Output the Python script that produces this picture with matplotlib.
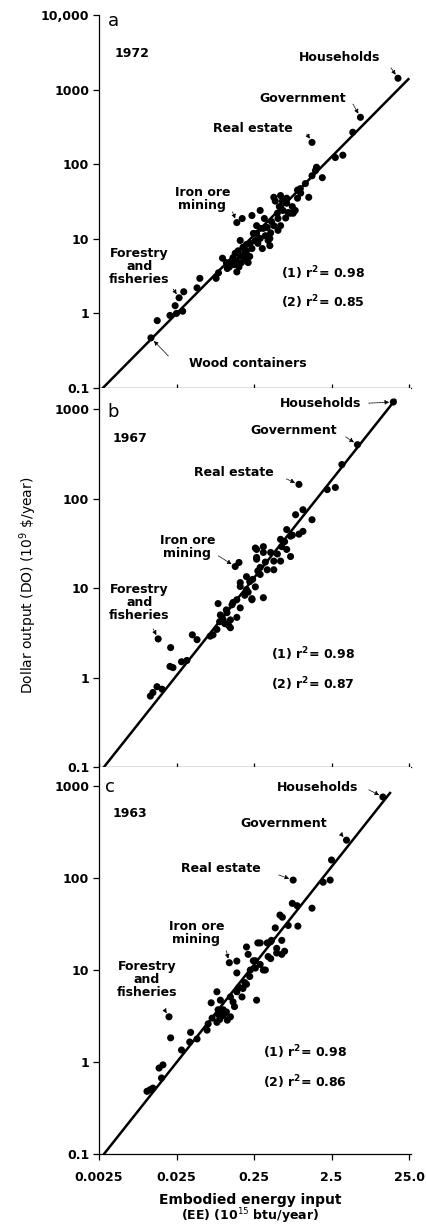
import matplotlib
matplotlib.use("Agg")
import matplotlib.pyplot as plt

# 1972 panel: embodied energy input (10^15 btu/yr) vs dollar output (10^9 $/yr)
ee_1972 = [0.0117, 0.0141, 0.0206, 0.024, 0.027, 0.031, 0.025, 0.030, 0.046, 0.050,
           0.081, 0.087, 0.098, 0.113, 0.124, 0.134, 0.143, 0.150, 0.150, 0.176,
           0.166, 0.18, 0.193, 0.20, 0.21, 0.224, 0.235, 0.245, 0.27, 0.28,
           0.30, 0.30, 0.32, 0.37, 0.40, 0.42, 0.40, 0.47, 0.50, 0.55,
           0.58, 0.66, 0.69, 0.73, 0.85, 0.91, 1.0, 1.27, 1.40, 1.55,
           1.6, 1.9, 2.8, 3.5, 4.7, 5.9, 1.4, 18, 0.156, 0.166,
           0.148, 0.172, 0.19, 0.2, 0.22, 0.235, 0.138, 0.16, 0.12, 0.11,
           0.26, 0.33, 0.35, 0.38, 0.41, 0.45, 0.51, 0.53, 0.59, 0.64,
           0.66, 0.78, 0.80, 0.34, 0.51, 0.30, 0.27, 0.45, 0.55, 0.91,
           1.15, 0.99]
do_1972 = [0.47, 0.80, 0.94, 1.27, 1.62, 1.95, 1.0, 1.07, 2.2, 2.95,
           2.95, 3.5, 5.5, 4.0, 4.8, 5.6, 6.4, 3.6, 16.5, 18.7,
           9.5, 7.7, 5.5, 6.9, 4.8, 8.7, 20.5, 11.8, 11.8, 8.7,
           10.1, 24, 7.4, 14.2, 10.1, 17, 8.1, 32, 22, 15,
           32, 30, 22.5, 22, 24, 35, 41, 36, 70, 82,
           91, 66, 123, 132, 268, 425, 196, 1420, 6.9, 5.9,
           5.1, 4.8, 6.6, 8.4, 5.8, 7.4, 4.5, 4.2, 4.2, 4.8,
           9.5, 13.8, 11, 9.5, 12, 15, 18.7, 27, 24, 19,
           35, 27, 22, 18.7, 13, 13.8, 15, 36, 38, 45,
           55, 47]

# 1967 panel
ee_1967 = [0.0145, 0.021, 0.0206, 0.0225, 0.029, 0.034, 0.0124, 0.014, 0.0163, 0.040,
           0.046, 0.074, 0.086, 0.083, 0.097, 0.112, 0.124, 0.134, 0.150, 0.166,
           0.20, 0.235, 0.27, 0.27, 0.33, 0.33, 0.37, 0.45, 0.55, 0.57,
           0.66, 0.74, 0.74, 0.86, 1.07, 1.07, 1.4, 0.143, 0.16, 0.95,
           2.2, 2.8, 3.4, 5.4, 15.7, 0.26, 0.33, 0.27, 0.41, 0.55,
           0.66, 0.78, 0.95, 0.35, 0.45, 0.30, 0.22, 0.166, 0.20, 0.26,
           0.235, 0.15, 0.13, 0.11, 0.092, 0.10, 0.124, 0.068, 0.118, 0.166,
           0.19, 0.0115, 0.30, 0.24, 0.28, 0.105, 0.09, 0.5, 0.62, 0.21]
do_1967 = [2.7, 2.16, 1.33, 1.29, 1.5, 1.55, 0.68, 0.79, 0.74, 3.0,
           2.65, 3.0, 6.7, 3.45, 4.7, 5.3, 3.6, 6.9, 4.7, 10.4,
           13.4, 7.4, 27, 21, 25, 7.8, 16, 20, 20, 29,
           45, 38, 22.5, 66, 75, 43, 58, 17.4, 19.3, 144,
           126, 133, 240, 400, 1200, 28, 29, 22, 25, 35,
           27, 39, 40, 19.5, 16, 14.2, 11.8, 11.5, 9.6, 10.3,
           7.6, 7.4, 6.5, 5.7, 5.0, 4.4, 4.4, 2.9, 3.8, 6.0,
           8.3, 0.62, 17, 12.5, 15.5, 4.0, 4.2, 24, 33, 9.0]

# 1963 panel
ee_1963 = [0.0114, 0.0104, 0.0124, 0.0149, 0.0167, 0.016, 0.020, 0.021, 0.029, 0.038,
           0.037, 0.046, 0.062, 0.064, 0.07, 0.083, 0.083, 0.086, 0.092, 0.102,
           0.113, 0.124, 0.134, 0.15, 0.175, 0.18, 0.20, 0.15, 0.12, 0.15,
           0.20, 0.21, 0.245, 0.26, 0.27, 0.28, 0.35, 0.37, 0.41, 0.42,
           0.49, 0.57, 0.57, 0.47, 0.54, 0.58, 0.69, 0.78, 0.9, 0.92,
           0.80, 1.4, 1.95, 2.4, 2.5, 3.9, 11.5, 0.099, 0.072, 0.086,
           0.10, 0.124, 0.19, 0.224, 0.26, 0.33, 0.30, 0.41, 0.49, 0.62,
           0.11, 0.14, 0.16, 0.22, 0.30, 0.38, 0.09]
do_1963 = [0.50, 0.48, 0.52, 0.86, 0.93, 0.67, 3.1, 1.83, 1.35, 2.1,
           1.65, 1.78, 2.22, 2.6, 4.4, 5.8, 2.7, 3.3, 4.7, 3.3,
           2.85, 3.1, 4.5, 5.8, 5.1, 6.3, 7.0, 9.3, 12, 12.5,
           17.8, 14.8, 12.6, 10.5, 4.7, 19.7, 10, 19.7, 13.3, 21,
           17.2, 14.8, 21, 28.7, 39.6, 37.5, 30.5, 53, 50, 30,
           95, 47, 90, 95, 157, 258, 760, 3.2, 3.0, 3.7,
           3.7, 5.1, 7.3, 10, 12.6, 10, 19.7, 20.3, 15.3, 16,
           3.5, 4.0, 6.5, 8.5, 11.5, 14, 2.9]

# regression line end points
fit_x = {"1972": [0.0028, 24.5], "1967": [0.0029, 16.5], "1963": [0.0029, 14.2]}
fit_y = {"1972": [0.1, 1380], "1967": [0.1, 1260], "1963": [0.1, 840]}

# labelled sectors (x, y of the point)
sectors = ["Households", "Government", "Real estate", "Iron ore\nmining", "Forestry\nand\nfisheries"]
key_x = {"1972": [18, 5.9, 1.4, 0.15, 0.027], "1967": [15.7, 5.4, 0.95, 0.143, 0.0145],
         "1963": [11.5, 3.9, 0.80, 0.12, 0.020]}
key_y = {"1972": [1420, 425, 196, 16.5, 1.62], "1967": [1200, 400, 144, 17.4, 2.7],
         "1963": [760, 258, 95, 12, 3.1]}
r2 = {"1972": ["0.98", "0.85"], "1967": ["0.98", "0.87"], "1963": ["0.98", "0.86"]}

x_ticks = [0.0025, 0.025, 0.25, 2.5, 25]
x_labels = ["0.0025", "0.025", "0.25", "2.5", "25.0"]
y_ticks = [0.1, 1, 10, 100, 1000, 10000]
y_labels = ["0.1", "1", "10", "100", "1000", "10,000"]

plt.rcParams['font.family'] = 'DejaVu Sans'
fig = plt.figure(figsize=(4.26, 12.26), dpi=100)

W, H = 426.0, 1226.0
left, right = 99, 411
# panel pixel extents: (top, bottom)
boxes = {"1972": (15, 388), "1967": (388, 767), "1963": (767, 1154)}
ylims = {"1972": (0.1, 10000), "1967": (0.1, 1720), "1963": (0.1, 1610)}
letters = {"1972": "a", "1967": "b", "1963": "c"}
data = {"1972": (ee_1972, do_1972), "1967": (ee_1967, do_1967), "1963": (ee_1963, do_1963)}

# text placement per panel (axes fraction): label centre, arrow start
txt_pos = {
    "1972": [(0.772, 0.885), (0.653, 0.777), (0.492, 0.697), (0.331, 0.507), (0.129, 0.327)],
    "1967": [(0.711, 0.960), (0.624, 0.889), (0.431, 0.778), (0.283, 0.580), (0.129, 0.433)],
    "1963": [(0.701, 0.946), (0.592, 0.855), (0.392, 0.739), (0.312, 0.571), (0.154, 0.452)],
}
arr_pos = {
    "1972": [(0.936, 0.858), (0.814, 0.761), (0.666, 0.681), (0.428, 0.472), (0.238, 0.265)],
    "1967": [(0.865, 0.960), (0.791, 0.871), (0.601, 0.760), (0.383, 0.557), (0.174, 0.364)],
    "1963": [(0.865, 0.941), (0.775, 0.827), (0.576, 0.721), (0.408, 0.525), (0.212, 0.370)],
}
letter_pos = {"1972": (0.045, 0.985), "1967": (0.045, 0.937), "1963": (0.035, 0.948)}
year_pos = {"1972": (0.106, 0.898), "1967": (0.10, 0.868), "1963": (0.10, 0.881)}
r2_pos = {"1972": (0.582, 0.308, 0.231), "1967": (0.55, 0.298, 0.219), "1963": (0.527, 0.264, 0.186)}

fs = 9
arrow_kw = dict(arrowstyle='-|>', lw=0.6, ls=(0, (1, 1)), color='black',
                shrinkA=0, shrinkB=3, mutation_scale=6)

for year in ["1972", "1967", "1963"]:
    top, bot = boxes[year]
    ax = fig.add_axes([left / W, 1 - bot / H, (right - left) / W, (bot - top) / H])
    ax.set_xscale('log')
    ax.set_yscale('log')
    ax.set_xlim(0.0025, 26.5)
    ax.set_ylim(*ylims[year])

    ee, do = data[year]
    ax.scatter(ee, do, s=26, color='black', edgecolors='none', zorder=3)
    ax.plot(fit_x[year], fit_y[year], color='black', lw=1.8, zorder=2)

    for sp in ['top', 'right']:
        ax.spines[sp].set_visible(False)
    for sp in ['left', 'bottom']:
        ax.spines[sp].set_linewidth(0.9)

    yt = [t for t in y_ticks if t <= ylims[year][1]]
    ax.set_yticks(yt)
    ax.set_yticklabels(y_labels[:len(yt)], fontsize=9, fontweight='bold')
    ax.set_xticks(x_ticks)
    ax.minorticks_off()
    ax.tick_params(axis='y', direction='out', length=4, width=0.9, pad=3)
    if year == "1963":
        ax.set_xticklabels(x_labels, fontsize=9, fontweight='bold')
        ax.tick_params(axis='x', direction='out', length=4, width=0.9, pad=8)
    else:
        ax.set_xticklabels([])
        ax.tick_params(axis='x', direction='in', length=3, width=0.9)

    ax.text(*letter_pos[year], letters[year], transform=ax.transAxes, fontsize=13,
            ha='center', va='center')
    ax.text(*year_pos[year], year, transform=ax.transAxes, fontsize=9,
            fontweight='bold', ha='center', va='center')

    for i, name in enumerate(sectors):
        ax.text(*txt_pos[year][i], name, transform=ax.transAxes, fontsize=fs,
                fontweight='bold', ha='center', va='center', linespacing=1.0)
        ax.annotate('', xy=(key_x[year][i], key_y[year][i]), xycoords='data',
                    xytext=arr_pos[year][i], textcoords='axes fraction',
                    arrowprops=arrow_kw)

    if year == "1972":
        ax.text(0.476, 0.067, "Wood containers", transform=ax.transAxes, fontsize=fs,
                fontweight='bold', ha='center', va='center')
        ax.annotate('', xy=(0.0117, 0.47), xycoords='data', xytext=(0.222, 0.086),
                    textcoords='axes fraction', arrowprops=arrow_kw)

    rx, ry1, ry2 = r2_pos[year]
    ax.text(rx, ry1, "(1) r$^{\\mathbf{2}}$= " + r2[year][0], transform=ax.transAxes,
            fontsize=fs, fontweight='bold', ha='left', va='center')
    ax.text(rx, ry2, "(2) r$^{\\mathbf{2}}$= " + r2[year][1], transform=ax.transAxes,
            fontsize=fs, fontweight='bold', ha='left', va='center')

fig.text(28 / W, 1 - 585 / H, "Dollar output (DO) (10$^9$ \\$/year)", rotation=90,
         fontsize=10, ha='center', va='center')
fig.text(250 / W, 1 - 1200 / H, "Embodied energy input", fontsize=10,
         fontweight='bold', ha='center', va='center')
fig.text(250 / W, 1 - 1216 / H, "(EE) (10$^{15}$ btu/year)", fontsize=9,
         fontweight='bold', ha='center', va='center')

fig.savefig("out.png", dpi=100)
